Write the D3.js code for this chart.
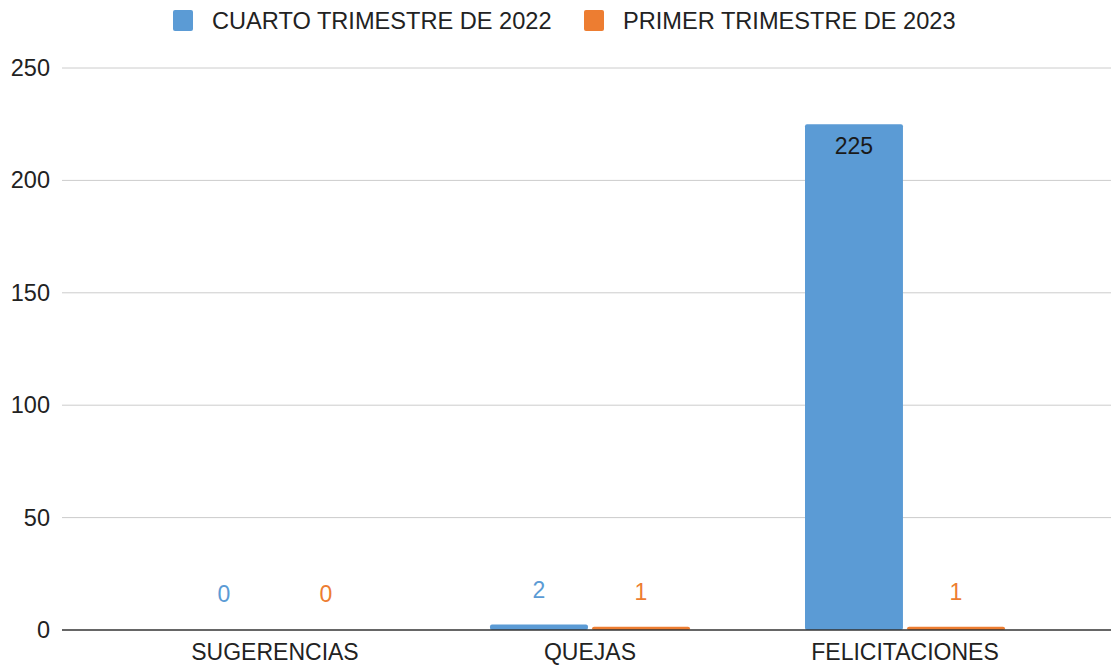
<!DOCTYPE html>
<html>
<head>
<meta charset="utf-8">
<script src="https://cdn.jsdelivr.net/npm/d3@7"></script>
<style>
  body { margin: 0; background: #fff; }
  svg { font-family: "Liberation Sans", Arial, sans-serif; }
</style>
</head>
<body>
<svg id="chart" width="1111" height="666"></svg>
<script>
var categories = ["SUGERENCIAS", "QUEJAS", "FELICITACIONES"];
var seriesNames = ["CUARTO TRIMESTRE DE 2022", "PRIMER TRIMESTRE DE 2023"];
var q4_2022 = [0, 2, 225];
var q1_2023 = [0, 1, 1];
var yTicks = [0, 50, 100, 150, 200, 250];
var colors = ["#5b9bd5", "#ed7d31"];

let chart = d3.select("#chart");

let gridLeft = 62, gridRight = 1111;
let fontFamily = "'Liberation Sans', Arial, sans-serif";

let x = d3.scaleBand()
    .domain(categories)
    .range([117.5, 1062.5]);

let x1 = d3.scaleBand()
    .domain([0, 1])
    .range([x.bandwidth() / 2 - 100, x.bandwidth() / 2 + 100])
    .paddingInner(0.04);

let y = d3.scaleLinear()
    .domain([0, 250])
    .range([630, 68]);

// gridlines
chart.append("g")
    .selectAll("line")
    .data(yTicks.filter(d => d > 0))
    .join("line")
    .attr("x1", gridLeft)
    .attr("x2", gridRight)
    .attr("y1", d => y(d))
    .attr("y2", d => y(d))
    .style("stroke", "#cccccc")
    .style("stroke-width", "1px");

// y axis labels
let yAxis = d3.axisLeft(y)
    .tickValues(yTicks)
    .tickSize(0)
    .tickPadding(0);

let yg = chart.append("g")
    .attr("transform", "translate(50,0)")
    .call(yAxis);
yg.select(".domain").remove();
yg.selectAll("text")
    .style("font-size", "23.5px")
    .style("fill", "#222")
    .style("font-family", fontFamily);

// bars
let data = categories.map((c, i) => ({ cat: c, values: [q4_2022[i], q1_2023[i]] }));

let groups = chart.append("g")
    .selectAll("g")
    .data(data)
    .join("g")
    .attr("transform", d => "translate(" + x(d.cat) + ",0)");

groups.selectAll("rect")
    .data(d => d.values.map((v, k) => ({ v: v, k: k })))
    .join("rect")
    .filter(d => d.v > 0)
    .attr("x", d => x1(d.k))
    .attr("width", x1.bandwidth())
    .attr("y", d => y(d.v) - (d.v < 5 ? 1 : 0))
    .attr("height", d => y(0) - y(d.v) + (d.v < 5 ? 1 : 0))
    .attr("rx", 2)
    .style("fill", d => colors[d.k]);

// value labels
groups.selectAll("text")
    .data(d => d.values.map((v, k) => ({ v: v, k: k })))
    .join("text")
    .attr("x", d => x1(d.k) + x1.bandwidth() / 2)
    .attr("y", d => d.v > 100 ? y(d.v) + 30 : y(d.v) - 28)
    .attr("text-anchor", "middle")
    .style("font-size", "23px")
    .style("fill", d => d.v > 100 ? "#1a1a1a" : colors[d.k])
    .text(d => d.v);

// baseline
chart.append("line")
    .attr("x1", gridLeft)
    .attr("x2", gridRight)
    .attr("y1", y(0))
    .attr("y2", y(0))
    .style("stroke", "#333")
    .style("stroke-width", "1.5px");

// x axis labels
chart.append("g")
    .selectAll("text")
    .data(categories)
    .join("text")
    .attr("x", d => x(d) + x.bandwidth() / 2)
    .attr("y", 660)
    .attr("text-anchor", "middle")
    .style("font-size", "23px")
    .style("fill", "#222")
    .text(d => d);

// legend
let legendX = [173, 584];
let legend = chart.append("g")
    .selectAll("g")
    .data(seriesNames)
    .join("g")
    .attr("transform", (d, i) => "translate(" + legendX[i] + ",0)");

legend.append("rect")
    .attr("x", 0)
    .attr("y", 10)
    .attr("width", 20)
    .attr("height", 21)
    .attr("rx", 2)
    .style("fill", (d, i) => colors[i]);

legend.append("text")
    .attr("x", 39)
    .attr("y", 28.5)
    .style("font-size", "23.6px")
    .style("fill", "#222")
    .text(d => d);
</script>
</body>
</html>
